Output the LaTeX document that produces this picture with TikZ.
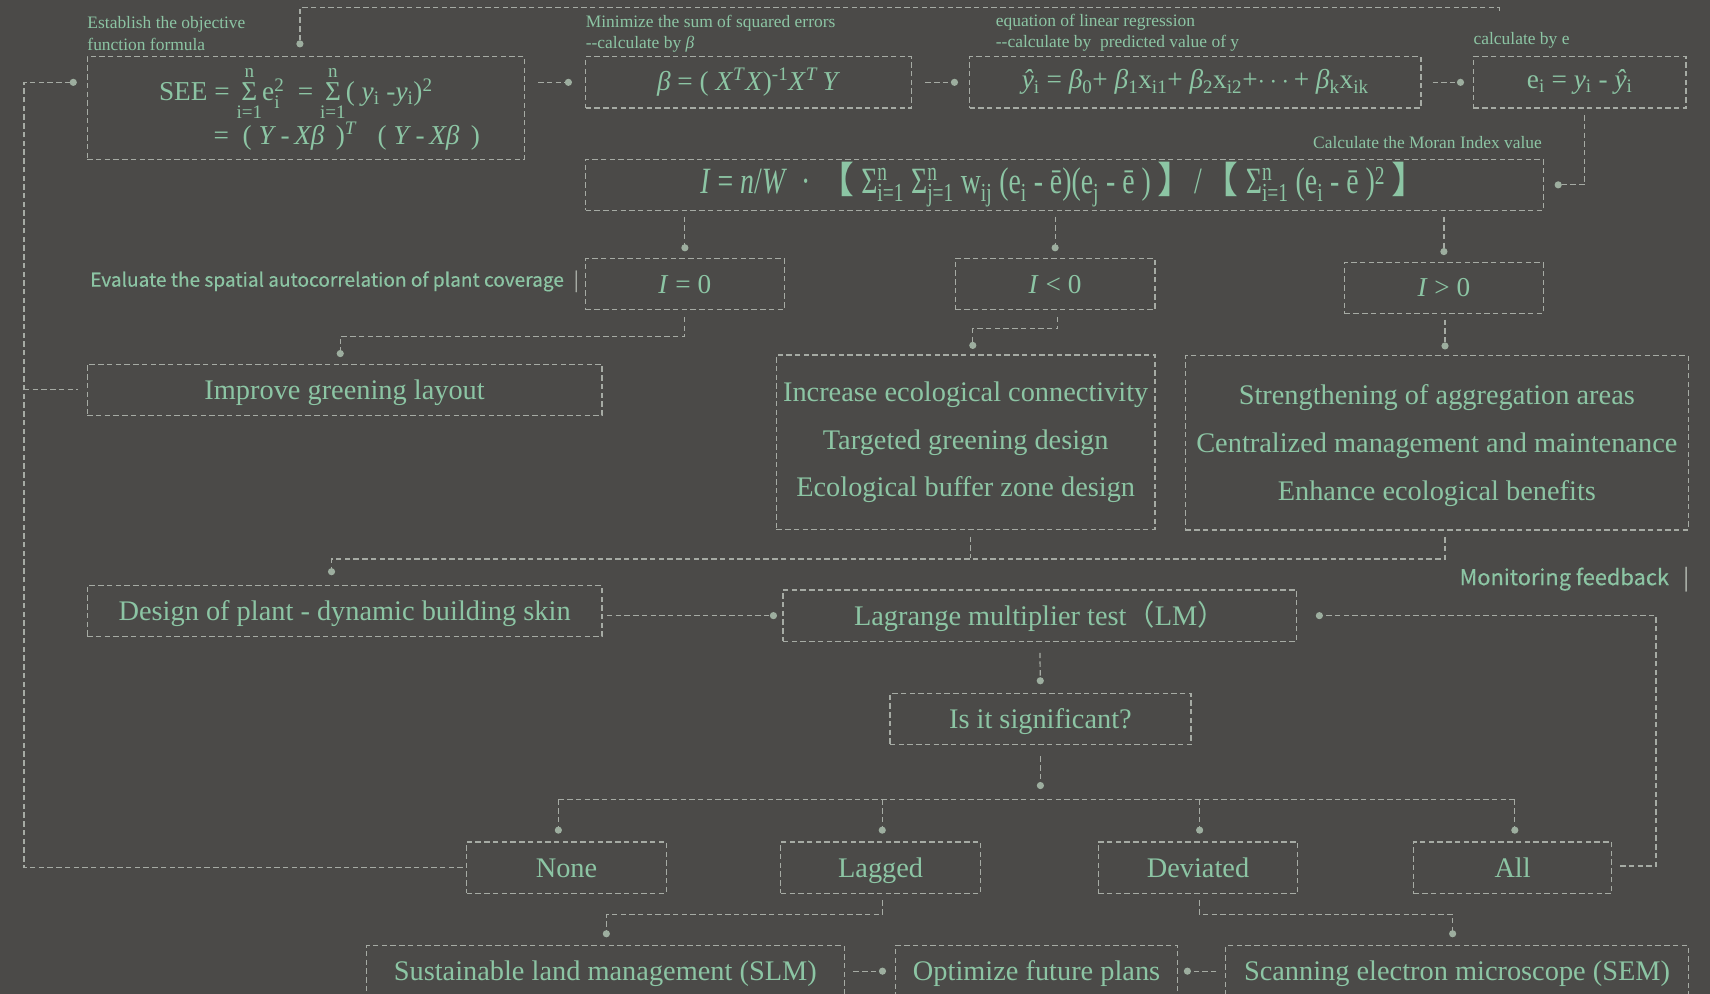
\documentclass[tikz,border=0pt]{standalone}
\usepackage{amsmath}
\usepackage{fontspec}
\setmainfont{Liberation Serif}
\newfontfamily\condfont{Liberation Serif}[FakeStretch=0.75]
\newfontfamily\cjk{Noto Sans CJK SC}
\newfontfamily\cjkm{Noto Sans CJK SC}[FakeBold=0.4]
\usepackage{xcolor}
\definecolor{bgc}{HTML}{4B4A48}
\definecolor{mint}{HTML}{8CC5A4}
\definecolor{linec}{HTML}{A6ABA4}
\definecolor{dotc}{HTML}{9DAE9F}
\usetikzlibrary{arrows.meta,calc}
\tikzset{
  gbox/.style={rectangle, draw=linec, line width=1.1pt, dash pattern=on 5pt off 3pt,
               text=mint, align=center, inner sep=0pt, minimum height=47pt,
               font=\fontsize{26}{44}\selectfont},
  gone/.style={gbox, execute at begin node=\strut},
  mbox/.style={gbox, font=\fontsize{25}{30}\selectfont},
  arr/.style ={draw=linec, line width=1.1pt, dash pattern=on 5pt off 3pt,
               -{Circle[length=6.5pt, color=dotc]}},
  ln/.style  ={draw=linec, line width=1.1pt, dash pattern=on 5pt off 3pt},
  el/.style  ={text=mint, align=left, inner sep=0pt, font=\fontsize{16}{20}\selectfont},
  sl/.style  ={text=mint, inner sep=0pt, font=\cjkm\fontsize{17.5}{22}\selectfont},
}
\newcommand{\sumlim}[2]{$\mathop{\text{Σ}}\limits^{\text{#2}}_{\text{#1}}$}
\newcommand{\sumside}[2]{$\text{Σ}^{\text{#2}}_{\text{#1}}$}

\begin{document}
\begin{tikzpicture}[x=1pt, y=-1pt]
  \fill[bgc] (0,0) rectangle (1568,911);
  \useasboundingbox (0,0) rectangle (1568,911);
  \node[el, anchor=west] (lsee) at (80,31) {Establish the objective\\function formula};
  \node[el, anchor=west] (lbeta) at (537,31) {Minimize the sum of squared errors\\-{}-calculate by \textit{β}};
  \node[el, anchor=west] (lyhat) at (913,30) {equation of linear regression\\-{}-calculate by\ \ predicted value of y};
  \node[el, anchor=west] (lei) at (1351,37) {calculate by e};
  \node[el, anchor=east] (lmoran) at (1414,131) {Calculate the Moran Index value};
  \node[sl, anchor=east] (leval) at (531,258) {Evaluate the spatial autocorrelation of plant coverage\hspace{9pt}{\color{linec}|}};
  \node[sl, anchor=east, font=\cjkm\fontsize{20}{22}\selectfont] (lmon) at (1549,531) {Monitoring feedback\hspace{13pt}{\color{linec}|}};
  \node[mbox, align=left, minimum width=401pt, minimum height=94pt] (see) at (280.5,99) {\hspace*{25pt}SEE = \sumlim{i=1}{n}e$^{\text{2}}_{\text{i}}$\ \ = \sumlim{i=1}{n}( \textit{y}\textsubscript{i} -\textit{y}\textsubscript{i})\textsuperscript{2}\\[0pt]\hspace*{75pt}=\ \ (\ \textit{Y}\,-\,\textit{Xβ}\ \,)\textsuperscript{\textit{T}}\ \ \ (\ \textit{Y}\,-\,\textit{Xβ}\ \,)};
  \node[mbox, minimum width=299pt] (beta) at (686.5,75.5) {\textit{β} =\ (\ \textit{X}\textsuperscript{\textit{T}}\textit{X})\textsuperscript{-1}\textit{X}\textsuperscript{\textit{T}}\,\textit{Y}};
  \node[mbox, minimum width=414pt] (yhat) at (1096,75.5) {\textit{ŷ}\textsubscript{i} = \textit{β}\textsubscript{0}+ \textit{β}\textsubscript{1}x\textsubscript{i1}+ \textit{β}\textsubscript{2}x\textsubscript{i2}+$\cdots$+ \textit{β}\textsubscript{k}x\textsubscript{ik}};
  \node[mbox, minimum width=195pt] (ei) at (1448.5,75.5) {e\textsubscript{i} = \textit{y}\textsubscript{i} - \textit{ŷ}\textsubscript{i}};
  \node[mbox, minimum width=878pt, font=\condfont\fontsize{34}{36}\selectfont] (moran) at (976,169.5) {\textit{I} = \textit{n}/\textit{W}\ \ ·\ {\cjk 【}\ \sumside{i=1}{n}\ \sumside{j=1}{n}\ w\textsubscript{ij} (e\textsubscript{i} - ē)(e\textsubscript{j} - ē )\,{\cjk 】}/{\cjk 【}\ \sumside{i=1}{n}\ (e\textsubscript{i} - ē )\textsuperscript{2}\,{\cjk 】}};
  \node[mbox, minimum width=182pt] (i0) at (628,260.5) {\textit{I} = 0};
  \node[mbox, minimum width=183pt] (ineg) at (967.5,260.5) {\textit{I} < 0};
  \node[mbox, minimum width=182pt] (ipos) at (1324,264) {\textit{I} > 0};
  \node[gone, minimum width=472pt] (improve) at (316,357.5) {Improve greening layout};
  \node[gbox, minimum width=347pt, minimum height=160pt] (negset) at (885.5,405.5) {Increase ecological connectivity\\Targeted greening design\\Ecological buffer zone design};
  \node[gbox, minimum width=461pt, minimum height=160pt] (posset) at (1317.5,406) {\rule{0pt}{24pt}Strengthening of aggregation areas\\Centralized management and maintenance\\Enhance ecological benefits};
  \node[gone, minimum width=472pt] (skin) at (316,560.5) {Design of plant - dynamic building skin};
  \node[gone, minimum width=471pt] (lm) at (953.5,564.5) {Lagrange multiplier test{\cjk （}LM{\cjk ）}};
  \node[gone, minimum width=276pt] (sig) at (954,659.5) {Is it significant?};
  \node[gone, minimum width=183pt] (none) at (519.5,795.5) {None};
  \node[gone, minimum width=183pt] (lag) at (807.5,795.5) {Lagged};
  \node[gone, minimum width=183pt] (dev) at (1098.5,795.5) {Deviated};
  \node[gone, minimum width=182pt] (all) at (1387,795.5) {All};
  \node[gone, minimum width=438pt] (slm) at (555,890.5) {Sustainable land management (SLM)};
  \node[gone, minimum width=259pt] (opt) at (950.5,890.5) {Optimize future plans};
  \node[gone, minimum width=424pt] (sem) at (1336,890.5) {Scanning electron microscope (SEM)};
  \coordinate (etop) at (1375,10);
  \coordinate (lbus) at (22,0);
  \coordinate (bus) at (0,733);
  \draw[arr, shorten >=8pt] (etop) -- ++(0,-3) -| ([xshift=-5.5pt]see.north);
  \draw[arr, shorten <=12pt, shorten >=12pt] (see.east |- beta) -- (beta.west);
  \draw[arr, shorten <=12pt, shorten >=10pt] (beta) -- (yhat);
  \draw[arr, shorten <=10pt, shorten >=8pt] (yhat) -- (ei);
  \draw[arr, shorten <=6pt, shorten >=10pt] ([xshift=4.5pt]ei.south) |- (moran.east);
  \foreach \n in {i0,ineg,ipos}
    \draw[arr, shorten <=5pt, shorten >=6pt] (moran.south -| \n) -- (\n.north);
  \draw[arr, shorten <=6pt, shorten >=6pt] (i0.south) -- ++(0,24) -| ([xshift=-4pt]improve.north);
  \draw[arr, shorten <=6pt, shorten >=5pt] ([xshift=2.5pt]ineg.south) -- ++(0,17) -| ([xshift=6.5pt]negset.north);
  \draw[arr, shorten <=5pt, shorten >=5pt] ([xshift=1pt]ipos.south) -- ([xshift=1pt]ipos.south |- posset.north);
  \draw[ln, shorten <=6pt] ([xshift=4.5pt]negset.south) -- ++(0,26);
  \draw[arr, shorten <=6pt, shorten >=9pt] ([xshift=7.5pt]posset.south) -- ++(0,26) -| ([xshift=-12pt]skin.north);
  \draw[arr, shorten <=4pt, shorten >=5pt] (skin.east |- lm.west) -- (lm.west);
  \draw[arr, shorten <=7pt, shorten >=17pt] ([yshift=1.5pt]all.east) -- ++(40,0) |- (lm.east);
  \draw[arr, shorten <=10pt, shorten >=8pt] (lm.south) -- (sig.north);
  \draw[arr, shorten <=10pt] (sig.south) -- ++(0,40);
  \draw[ln] ([xshift=-7.5pt]none.north |- bus) -- ([xshift=2pt]all.north |- bus);
  \foreach \n/\d in {none/-7.5,lag/1.5,dev/1.5,all/2}
    \draw[arr, shorten >=7pt] ([xshift=\d pt]\n.north |- bus) -- ([xshift=\d pt]\n.north);
  \draw[arr, shorten <=3pt, shorten >=9pt] (none.west) -- (none.west -| lbus) |- (see.west |- beta);
  \draw[ln, shorten >=8pt] (improve.west -| lbus) -- (improve.west);
  \draw[arr, shorten <=6pt, shorten >=7pt] ([xshift=1.5pt]lag.south) -- ++(0,19) -| ([xshift=1pt]slm.north);
  \draw[arr, shorten <=6pt, shorten >=7pt] ([xshift=1.5pt]dev.south) -- ++(0,19) -| ([xshift=-4pt]sem.north);
  \draw[arr, shorten <=8pt, shorten >=8pt] (slm.east |- opt.west) -- (opt.west);
  \draw[arr, shorten <=8pt, shorten >=5pt] (sem.west) -- (opt.east);
\end{tikzpicture}
\end{document}
